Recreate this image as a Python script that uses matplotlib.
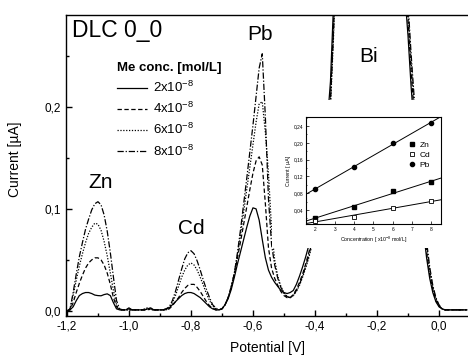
import numpy as np
import matplotlib
matplotlib.use("Agg")
import matplotlib.pyplot as plt
from matplotlib.lines import Line2D
from matplotlib.patches import Rectangle
from matplotlib.ticker import MultipleLocator, FuncFormatter

plt.rcParams['font.family'] = ['Liberation Sans', 'DejaVu Sans']
plt.rcParams['mathtext.default'] = 'regular'

# potential grid [V], shared by all four voltammograms
potential = np.round(np.arange(-1.20, 0.095, 0.01), 2)

# current [uA] per concentration
cur_2 = [
    0.0, 0.001, 0.004, 0.010, 0.015, 0.017, 0.018, 0.018, 0.017, 0.0155, 0.015, 0.0148, 0.016, 0.0167, 0.015, 0.008, 0.002, 0.001,
    0.001, 0.001, 0.003, 0.001, 0.001, 0.001, 0.001, 0.001, 0.002, 0.003, 0.001, 0.001, 0.001, 0.001, 0.002,
    0.003, 0.006, 0.009, 0.012, 0.015, 0.017, 0.018, 0.018, 0.017, 0.015, 0.013, 0.010, 0.007, 0.004, 0.002, 0.001, 0.001,
    0.002, 0.006, 0.012, 0.021, 0.033, 0.046, 0.058, 0.070, 0.082, 0.093, 0.101, 0.100, 0.089, 0.070, 0.052, 0.040, 0.033, 0.028, 0.024, 0.020, 0.018, 0.017, 0.018,
    0.020, 0.026, 0.034, 0.043, 0.053, 0.064, 0.077, 0.092, 0.110, 0.130, 0.155, 0.185, 0.225, 0.300, 0.400, 0.550,
    0.75, 0.90, 1.00, 1.10, 1.15, 1.20, 1.20, 1.20, 1.20, 1.20, 1.15, 1.10, 1.00, 0.90, 0.80, 0.70, 0.60, 0.50, 0.42,
    0.355, 0.31, 0.27, 0.22, 0.18, 0.145, 0.11, 0.078, 0.052, 0.032, 0.018, 0.009, 0.004, 0.002, 0.001,
    0.001, 0.001, 0.001, 0.001, 0.001, 0.001, 0.001,
]
cur_4 = [
    0.0, 0.001, 0.008, 0.018, 0.027, 0.035, 0.042, 0.047, 0.050, 0.052, 0.052, 0.050, 0.045, 0.037, 0.026, 0.013, 0.004, 0.001,
    0.001, 0.001, 0.002, 0.001, 0.001, 0.001, 0.001, 0.001, 0.001, 0.002, 0.001, 0.001, 0.001, 0.001, 0.001,
    0.002, 0.005, 0.009, 0.013, 0.018, 0.022, 0.025, 0.026, 0.026, 0.023, 0.019, 0.014, 0.009, 0.005, 0.003, 0.001, 0.001,
    0.002, 0.006, 0.013, 0.023, 0.036, 0.052, 0.068, 0.085, 0.102, 0.119, 0.135, 0.147, 0.151, 0.143, 0.105, 0.062, 0.042, 0.032, 0.025, 0.019, 0.015, 0.013, 0.013,
    0.016, 0.021, 0.028, 0.036, 0.046, 0.057, 0.070, 0.084, 0.100, 0.120, 0.143, 0.172, 0.210, 0.280, 0.380, 0.520,
    0.72, 0.88, 1.00, 1.10, 1.15, 1.20, 1.20, 1.20, 1.20, 1.20, 1.16, 1.12, 1.02, 0.92, 0.82, 0.72, 0.62, 0.52, 0.44,
    0.37, 0.325, 0.285, 0.235, 0.193, 0.156, 0.12, 0.086, 0.058, 0.036, 0.021, 0.010, 0.005, 0.002, 0.001,
    0.001, 0.001, 0.001, 0.001, 0.001, 0.001, 0.001,
]
cur_6 = [
    0.0, 0.002, 0.015, 0.030, 0.044, 0.056, 0.067, 0.076, 0.082, 0.086, 0.085, 0.079, 0.068, 0.054, 0.037, 0.020, 0.006, 0.001,
    0.001, 0.001, 0.001, 0.001, 0.001, 0.001, 0.001, 0.002, 0.003, 0.002, 0.001, 0.001, 0.001, 0.001, 0.001,
    0.003, 0.008, 0.015, 0.024, 0.033, 0.040, 0.045, 0.047, 0.045, 0.040, 0.033, 0.025, 0.017, 0.010, 0.005, 0.002, 0.001,
    0.002, 0.006, 0.013, 0.024, 0.037, 0.055, 0.075, 0.097, 0.119, 0.141, 0.163, 0.185, 0.203, 0.205, 0.175, 0.135, 0.080, 0.050, 0.034, 0.024, 0.018, 0.014, 0.013,
    0.015, 0.019, 0.025, 0.033, 0.042, 0.052, 0.064, 0.078, 0.094, 0.113, 0.136, 0.164, 0.200, 0.270, 0.360, 0.500,
    0.70, 0.86, 0.98, 1.08, 1.15, 1.20, 1.20, 1.20, 1.20, 1.20, 1.17, 1.13, 1.04, 0.94, 0.84, 0.74, 0.64, 0.54, 0.45,
    0.38, 0.335, 0.295, 0.245, 0.202, 0.165, 0.128, 0.093, 0.064, 0.040, 0.023, 0.012, 0.005, 0.002, 0.001,
    0.001, 0.001, 0.001, 0.001, 0.001, 0.001, 0.001,
]
cur_8 = [
    0.0, 0.002, 0.018, 0.036, 0.053, 0.067, 0.080, 0.090, 0.099, 0.105, 0.107, 0.104, 0.094, 0.078, 0.057, 0.033, 0.010, 0.002,
    0.001, 0.001, 0.001, 0.001, 0.001, 0.001, 0.001, 0.001, 0.002, 0.001, 0.001, 0.001, 0.001, 0.001, 0.002,
    0.004, 0.010, 0.019, 0.030, 0.041, 0.051, 0.057, 0.059, 0.056, 0.049, 0.040, 0.030, 0.021, 0.013, 0.006, 0.003, 0.001,
    0.002, 0.006, 0.013, 0.024, 0.037, 0.057, 0.080, 0.105, 0.130, 0.156, 0.182, 0.210, 0.238, 0.252, 0.190, 0.110, 0.065, 0.045, 0.032, 0.023, 0.017, 0.014, 0.013,
    0.015, 0.020, 0.026, 0.034, 0.044, 0.054, 0.067, 0.081, 0.097, 0.116, 0.139, 0.168, 0.205, 0.275, 0.370, 0.510,
    0.71, 0.87, 0.99, 1.09, 1.15, 1.20, 1.20, 1.20, 1.20, 1.20, 1.18, 1.14, 1.05, 0.95, 0.85, 0.75, 0.65, 0.55, 0.46,
    0.39, 0.345, 0.302, 0.252, 0.209, 0.171, 0.134, 0.098, 0.068, 0.043, 0.025, 0.013, 0.006, 0.002, 0.001,
    0.001, 0.001, 0.001, 0.001, 0.001, 0.001, 0.001,
]
conc_labels = [r"2x10$^{-8}$", r"4x10$^{-8}$", r"6x10$^{-8}$", r"8x10$^{-8}$"]

# calibration inset
conc = [2, 4, 6, 8]
zn_peak = [0.021, 0.047, 0.085, 0.106]
cd_peak = [0.014, 0.024, 0.045, 0.061]
pb_peak = [0.090, 0.142, 0.200, 0.247]

for s in (cur_2, cur_4, cur_6, cur_8):
    assert len(s) == len(potential)

comma = FuncFormatter(lambda v, p: f"{v:.1f}".replace(".", ","))
comma2 = FuncFormatter(lambda v, p: f"{v:.2f}".replace(".", ","))

W, H = 468, 356
fig = plt.figure(figsize=(W / 100, H / 100), dpi=100)
ax = fig.add_axes([66 / W, 1 - 316 / H, (470 - 66) / W, (316 - 15) / H])

styles = ["-", (0, (3.5, 2)), (0, (1, 1.3)), (0, (5, 1.5, 1, 1.5))]
for ys, ls, lab in zip((cur_2, cur_4, cur_6, cur_8), styles, conc_labels):
    ax.plot(potential, ys, color="black", lw=0.9, linestyle=ls, label=lab)

ax.set_xlim(-1.203, 0.1)
ax.set_ylim(-0.005, 0.290)
ax.xaxis.set_major_locator(MultipleLocator(0.2))
ax.xaxis.set_minor_locator(MultipleLocator(0.1))
ax.yaxis.set_major_locator(MultipleLocator(0.1))
ax.yaxis.set_minor_locator(MultipleLocator(0.05))
ax.xaxis.set_major_formatter(comma)
ax.yaxis.set_major_formatter(comma)
ax.tick_params(which="both", direction="in", labelsize=8.5, width=1.0)
ax.tick_params(which="major", length=4.5)
ax.tick_params(which="minor", length=2.5)
for sp in ax.spines.values():
    sp.set_linewidth(1.0)

ax.set_xlabel("Potential [V]", fontsize=10)
ax.xaxis.set_label_coords(0.5, -0.083)
ax.set_ylabel("Current [\u00b5A]", fontsize=10)
ax.yaxis.set_label_coords(-0.11, 0.52)

# peak annotations
def px(x, y):
    return ax.transAxes.inverted().transform(fig.transFigure.transform((x / W, 1 - y / H)))

ax.text(*px(72, 30), "DLC 0_0", fontsize=16.5, ha="left", va="center", transform=ax.transAxes)
ax.text(*px(260, 34), "Pb", fontsize=15, ha="center", va="center", transform=ax.transAxes)
ax.text(*px(369, 56), "Bi", fontsize=15, ha="center", va="center", transform=ax.transAxes)
ax.text(*px(101, 182), "Zn", fontsize=15, ha="center", va="center", transform=ax.transAxes)
ax.text(*px(191, 229), "Cd", fontsize=15, ha="center", va="center", transform=ax.transAxes)

leg = ax.legend(loc="upper left", bbox_to_anchor=(117 / W, 1 - 62 / H), bbox_transform=fig.transFigure,
                frameon=False, fontsize=9.5, handlelength=2.3, handletextpad=0.45, labelspacing=0.45,
                borderpad=0, borderaxespad=0, title="Me conc. [mol/L]", alignment="left",
                title_fontproperties={"weight": "bold", "size": 9.5})

# white background behind the inset hides part of the Bi peak
ax.add_patch(Rectangle((272 / W, 1 - 248 / H), 190 / W, 148 / H, transform=fig.transFigure,
                       facecolor="white", edgecolor="none", zorder=5, clip_on=False))

# inset: calibration plot
axi = fig.add_axes([305.7 / W, 1 - 224 / H, (441 - 305.7) / W, (224 - 117) / H])
axi.set_zorder(6)
xfit = np.array([1.5, 8.5])
for vals in (pb_peak, zn_peak, cd_peak):
    k, b = np.polyfit(conc, vals, 1)
    axi.plot(xfit, k * xfit + b, color="black", lw=0.7)
axi.plot(conc, zn_peak, "s", color="black", ms=2.8, label="Zn")
axi.plot(conc, cd_peak, "s", mfc="white", mec="black", mew=0.6, ms=2.8, label="Cd")
axi.plot(conc, pb_peak, "o", color="black", ms=3, label="Pb")
axi.set_xlim(1.5, 8.5)
axi.set_ylim(0.0067, 0.2614)
axi.xaxis.set_major_locator(MultipleLocator(1))
axi.yaxis.set_major_locator(MultipleLocator(0.04))
axi.yaxis.set_minor_locator(MultipleLocator(0.02))
axi.yaxis.set_major_formatter(comma2)
axi.tick_params(which="both", direction="in", labelsize=3.5, width=0.5, pad=2)
axi.tick_params(which="major", length=2)
axi.tick_params(which="minor", length=1)
for sp in axi.spines.values():
    sp.set_linewidth(0.8)
axi.set_xlabel(r"Concentration [ x10$^{-8}$ mol/L]", fontsize=3.8, labelpad=2)
axi.set_ylabel("Current [ \u00b5A]", fontsize=3.8, labelpad=2)
axi.legend(loc="upper left", bbox_to_anchor=(409 / W, 1 - 141 / H), bbox_transform=fig.transFigure,
           frameon=False, fontsize=6, handlelength=0.6, handletextpad=0.7, labelspacing=0.25,
           borderpad=0, borderaxespad=0)

fig.savefig("out.png", dpi=100)
